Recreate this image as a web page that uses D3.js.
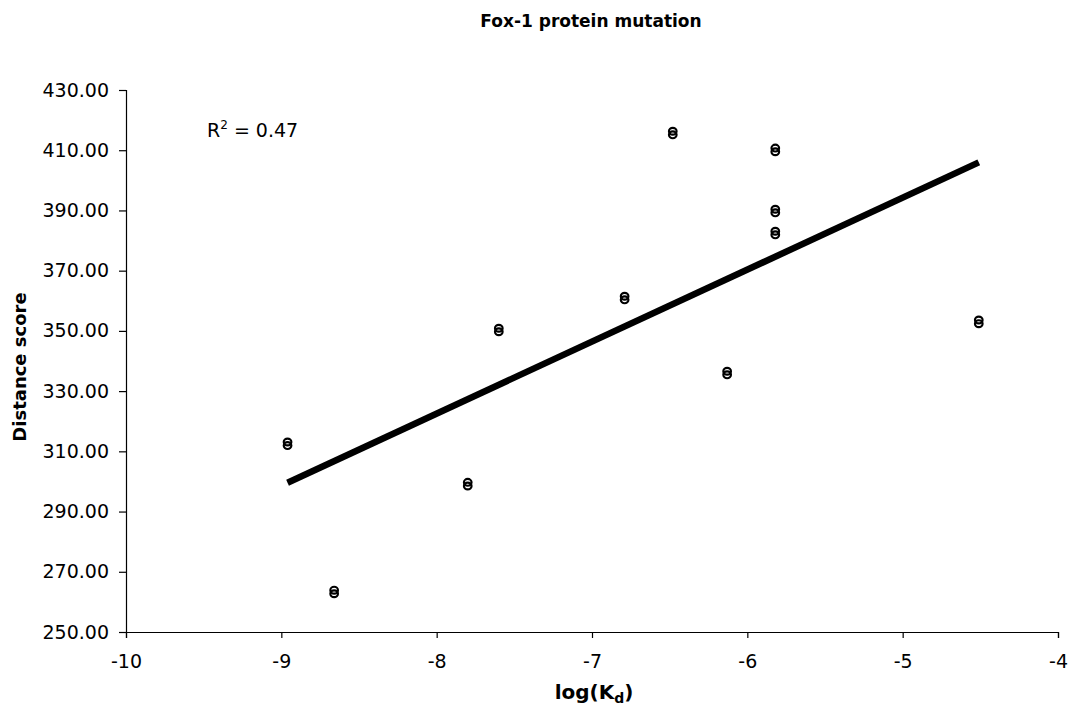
<!DOCTYPE html>
<html>
<head>
<meta charset="utf-8">
<script src="https://cdn.jsdelivr.net/npm/d3@7"></script>
<style>
  body { margin: 0; background: #fff; }
  svg text { font-family: "DejaVu Sans", Verdana, sans-serif; fill: #000; }
</style>
</head>
<body>
<div id="chart"></div>
<script>
// data
const logKd = [-8.96, -8.66, -7.80, -7.60, -6.79, -6.48, -6.13, -5.82, -5.82, -5.82, -4.51];
const distanceScore = [312.5, 263.3, 299.1, 350.3, 360.9, 415.7, 336.0, 410.1, 389.8, 382.5, 353.0];
const xTicks = [-10, -9, -8, -7, -6, -5, -4];
const yTicks = [250, 270, 290, 310, 330, 350, 370, 390, 410, 430];

const width = 1072;
const height = 712;
const paddingLeft = 126;
const paddingRight = 14;
const paddingTop = 90;
const paddingBottom = 80;

const points = logKd.map((x, i) => ({ x, y: distanceScore[i] }));

const xScale = d3.scaleLinear().domain([-10, -4]).range([paddingLeft, width - paddingRight]);
const yScale = d3.scaleLinear().domain([250, 430]).range([height - paddingBottom, paddingTop]);

const svg = d3.select('#chart').append('svg')
    .attr('width', width)
    .attr('height', height);

// 标题
svg.append('text')
    .attr('x', 591)
    .attr('y', 27)
    .attr('text-anchor', 'middle')
    .attr('font-size', 17)
    .attr('font-weight', 'bold')
    .text('Fox-1 protein mutation');

// 坐标轴
const xAxis = d3.axisBottom(xScale)
    .tickValues(xTicks)
    .tickSize(6)
    .tickPadding(17)
    .tickFormat(d3.format('d'));
const yAxis = d3.axisLeft(yScale)
    .tickValues(yTicks)
    .tickSize(7)
    .tickPadding(10)
    .tickFormat(d3.format('.2f'));

const gx = svg.append('g')
    .attr('transform', `translate(0,${height - paddingBottom})`)
    .call(xAxis);
const gy = svg.append('g')
    .attr('transform', `translate(${paddingLeft},0)`)
    .call(yAxis);
[gx, gy].forEach((g) => {
    g.select('.domain').attr('stroke', '#000').attr('stroke-width', 1.2);
    g.selectAll('.tick line').attr('stroke', '#000').attr('stroke-width', 1.2);
    g.selectAll('.tick text')
        .attr('font-size', 19)
        .attr('font-family', '"DejaVu Sans", Verdana, sans-serif')
        .attr('fill', '#000');
});
gx.selectAll('.tick text').text((d) => (d < 0 ? '-' + Math.abs(d) : d));

// 轴标题
const xLabel = svg.append('text')
    .attr('x', 594)
    .attr('y', 699)
    .attr('text-anchor', 'middle')
    .attr('font-size', 20)
    .attr('font-weight', 'bold');
xLabel.append('tspan').text('log(K');
xLabel.append('tspan').attr('font-size', 14).attr('dy', 4).text('d');
xLabel.append('tspan').attr('dy', -4).text(')');

svg.append('text')
    .attr('transform', `translate(26,367) rotate(-90)`)
    .attr('text-anchor', 'middle')
    .attr('font-size', 18)
    .attr('font-weight', 'bold')
    .text('Distance score');

// 线性回归 趋势线
const mx = d3.mean(points, (d) => d.x);
const my = d3.mean(points, (d) => d.y);
const sxy = d3.sum(points, (d) => (d.x - mx) * (d.y - my));
const sxx = d3.sum(points, (d) => (d.x - mx) ** 2);
const syy = d3.sum(points, (d) => (d.y - my) ** 2);
const slope = sxy / sxx;
const intercept = my - slope * mx;
const r2 = (sxy * sxy) / (sxx * syy);
const xExtent = d3.extent(points, (d) => d.x);

svg.append('line')
    .attr('x1', xScale(xExtent[0]))
    .attr('y1', yScale(slope * xExtent[0] + intercept))
    .attr('x2', xScale(xExtent[1]))
    .attr('y2', yScale(slope * xExtent[1] + intercept))
    .attr('stroke', '#000')
    .attr('stroke-width', 6.5);

// 数据点 (双圆标记)
const marks = svg.append('g');
points.forEach((d) => {
    [-1.8, 1.8].forEach((off) => {
        marks.append('ellipse')
            .attr('cx', xScale(d.x))
            .attr('cy', yScale(d.y) + off)
            .attr('rx', 3.8)
            .attr('ry', 3.4)
            .attr('fill', 'none')
            .attr('stroke', '#000')
            .attr('stroke-width', 2.2);
    });
});

// R²
const r2Text = svg.append('text')
    .attr('x', 207)
    .attr('y', 137)
    .attr('font-size', 19);
r2Text.append('tspan').text('R');
r2Text.append('tspan').attr('font-size', 12).attr('dy', -8).text('2');
r2Text.append('tspan').attr('dy', 8).text(' = ' + r2.toFixed(2));
</script>
</body>
</html>
